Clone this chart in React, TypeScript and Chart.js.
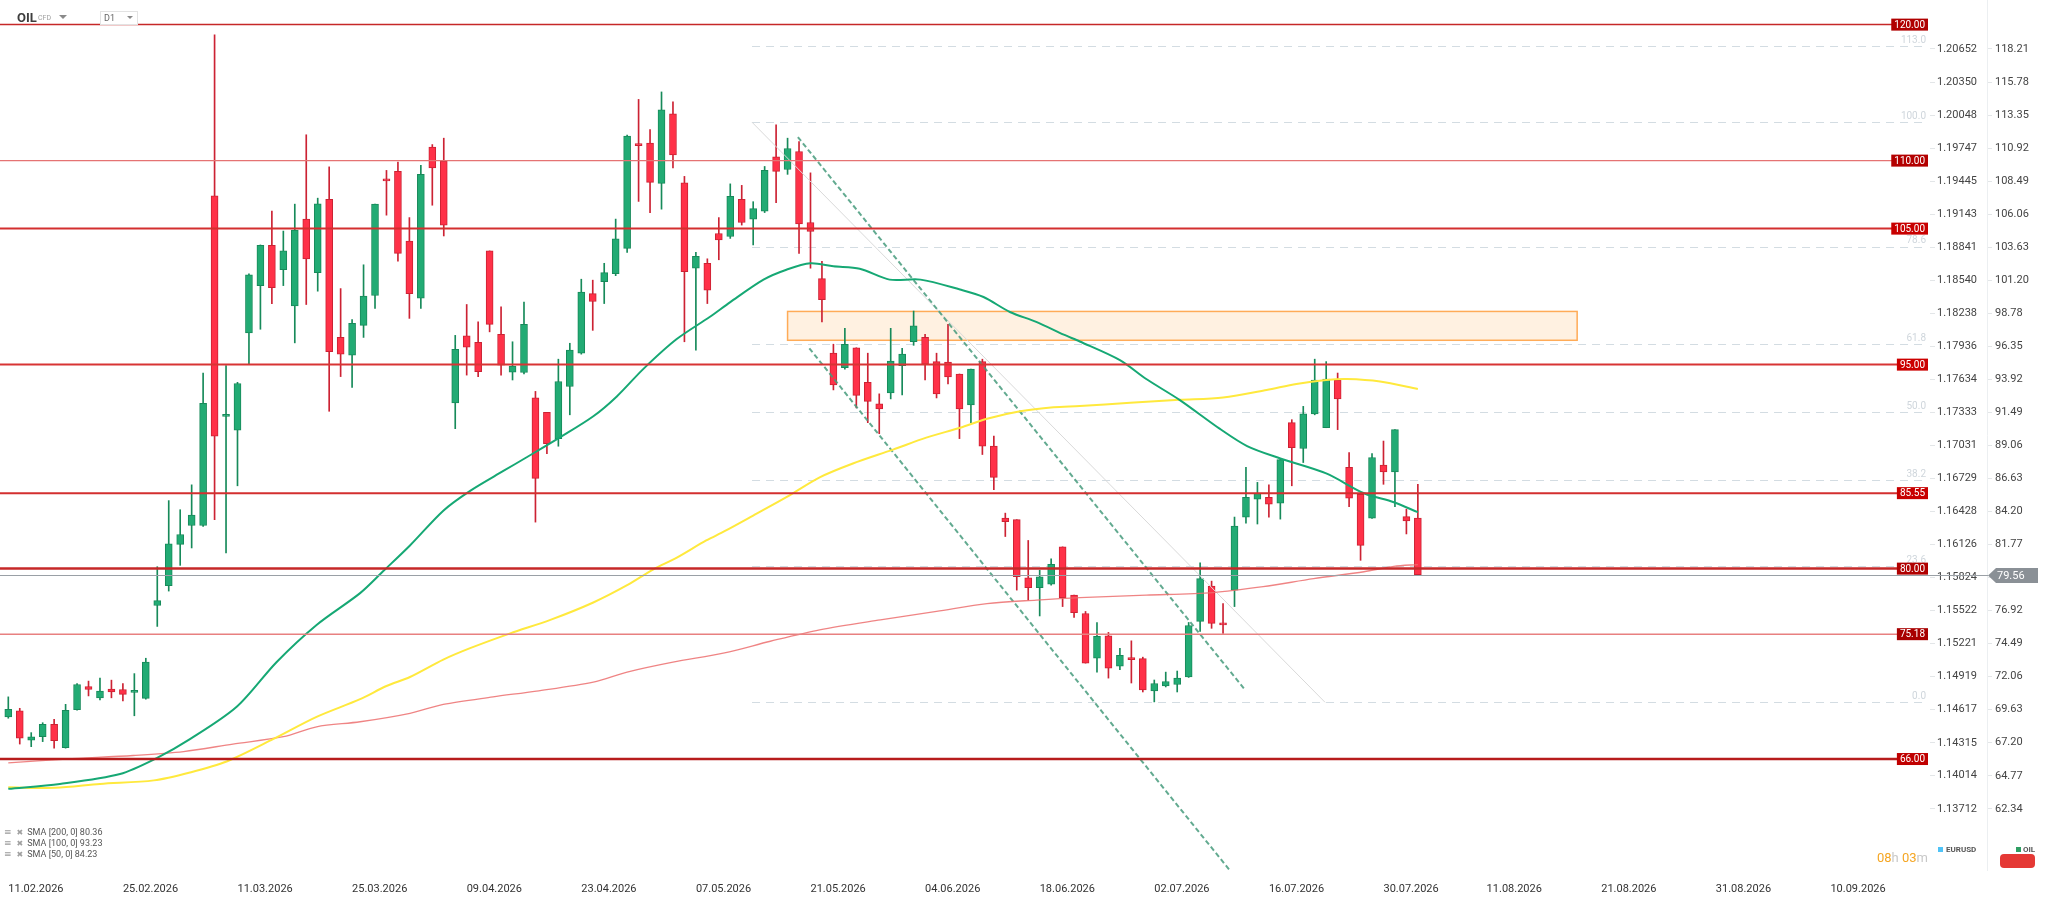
import React, { useEffect, useRef } from 'react';
import { Chart, registerables } from 'chart.js';

Chart.register(...registerables);
Chart.defaults.font.family = 'Roboto';

// ---------- data ----------
const OPEN = [69.10, 69.54, 67.39, 67.64, 68.56, 66.84, 69.62, 71.33, 70.49, 71.15, 71.11, 70.90, 70.46, 77.29, 78.75, 81.78, 83.17, 83.17, 107.42, 91.20, 90.18, 97.34, 100.81, 103.77, 101.98, 99.31, 105.70, 101.76, 107.16, 97.00, 95.69, 97.89, 100.08, 108.66, 109.21, 104.09, 99.89, 111.00, 109.97, 92.19, 97.12, 96.64, 103.36, 97.23, 94.45, 94.42, 92.55, 91.49, 89.56, 93.39, 95.84, 100.22, 101.10, 101.68, 103.55, 111.25, 111.29, 108.33, 113.44, 108.37, 102.09, 102.45, 104.64, 104.42, 107.16, 105.70, 106.29, 110.27, 109.35, 110.67, 105.45, 101.32, 95.84, 94.78, 96.24, 93.69, 92.11, 92.92, 94.93, 96.68, 97.00, 95.22, 95.18, 94.31, 92.04, 95.22, 89.01, 83.71, 83.60, 79.33, 78.60, 78.86, 81.60, 78.05, 76.70, 73.42, 75.06, 72.83, 73.45, 73.38, 71.00, 71.37, 71.48, 72.03, 76.12, 78.71, 76.00, 78.42, 83.79, 85.10, 85.25, 84.81, 90.73, 88.83, 91.38, 90.36, 93.87, 87.44, 85.47, 83.71, 87.62, 87.11, 83.82, 83.71];
const HIGH = [70.57, 69.73, 67.94, 68.67, 68.92, 70.02, 71.55, 71.73, 71.95, 71.80, 71.55, 72.28, 73.41, 80.14, 85.00, 84.33, 86.16, 94.38, 119.25, 94.93, 93.70, 101.68, 103.80, 106.29, 104.82, 106.80, 111.90, 107.24, 109.54, 100.59, 98.32, 102.34, 106.80, 109.28, 109.90, 105.81, 109.65, 111.18, 111.65, 97.15, 99.42, 98.14, 103.36, 99.24, 96.68, 99.60, 93.03, 91.49, 95.40, 96.57, 101.28, 101.21, 102.45, 105.70, 111.87, 114.50, 112.28, 115.05, 114.32, 108.84, 103.25, 102.78, 105.81, 108.29, 108.18, 106.98, 109.57, 112.64, 111.65, 111.40, 109.10, 102.60, 96.50, 97.67, 96.24, 95.84, 92.85, 97.67, 96.20, 98.94, 97.23, 95.84, 97.96, 94.31, 94.67, 95.40, 89.74, 84.08, 83.60, 82.07, 79.88, 80.72, 81.60, 78.05, 76.85, 76.04, 75.31, 74.14, 74.69, 73.49, 71.81, 72.39, 72.47, 76.04, 80.43, 79.08, 77.43, 83.79, 87.44, 86.34, 86.16, 88.10, 90.95, 91.93, 95.40, 95.22, 94.38, 88.54, 85.47, 88.46, 89.38, 90.22, 84.37, 86.20];
const LOW = [69.00, 67.10, 66.91, 67.28, 66.80, 66.80, 69.60, 70.64, 70.35, 70.50, 70.27, 69.18, 70.40, 75.75, 78.35, 80.24, 81.52, 83.10, 83.60, 81.16, 86.09, 95.04, 97.60, 99.49, 100.81, 96.60, 99.42, 100.40, 91.57, 94.12, 93.32, 97.00, 99.13, 105.99, 102.60, 98.40, 99.13, 106.72, 104.46, 90.29, 94.23, 94.12, 97.41, 94.23, 93.87, 94.31, 83.42, 88.46, 89.00, 91.31, 95.77, 97.52, 99.49, 101.54, 103.25, 107.00, 106.18, 106.43, 109.46, 96.68, 96.06, 99.49, 102.71, 104.28, 105.26, 103.80, 106.18, 106.90, 108.99, 103.18, 102.09, 98.14, 93.14, 94.67, 91.82, 90.73, 89.92, 92.48, 92.77, 96.42, 93.87, 92.55, 93.58, 89.56, 90.73, 88.39, 85.80, 82.36, 78.42, 77.69, 76.52, 78.78, 77.21, 76.41, 73.05, 72.39, 71.95, 72.57, 71.59, 70.93, 70.20, 71.30, 70.93, 72.00, 75.39, 75.61, 75.24, 77.21, 83.35, 83.28, 83.79, 83.64, 86.09, 87.80, 91.31, 90.36, 90.22, 84.55, 80.61, 83.70, 86.20, 84.55, 82.55, 79.50];
const CLOSE = [69.65, 67.53, 67.64, 68.56, 67.35, 69.58, 71.48, 71.11, 71.00, 70.93, 70.75, 71.00, 73.12, 77.65, 81.82, 82.51, 83.93, 92.15, 89.74, 91.30, 93.61, 101.61, 103.77, 100.66, 103.36, 104.90, 102.78, 106.83, 95.95, 95.77, 98.03, 100.04, 106.80, 108.51, 103.18, 100.22, 108.99, 109.46, 105.26, 96.13, 96.28, 94.49, 97.96, 94.96, 94.89, 97.96, 86.64, 89.19, 93.76, 96.06, 100.33, 99.64, 101.76, 104.24, 111.80, 111.10, 108.40, 113.74, 110.41, 101.83, 102.96, 100.48, 104.17, 107.38, 105.45, 106.47, 109.28, 109.21, 110.89, 105.34, 104.79, 99.78, 93.50, 96.50, 92.74, 92.30, 91.75, 95.26, 95.77, 97.85, 95.04, 92.85, 94.09, 91.75, 94.67, 89.01, 86.71, 83.46, 79.40, 78.60, 79.40, 80.32, 77.87, 76.77, 73.05, 75.02, 72.68, 73.63, 73.30, 71.08, 71.55, 71.70, 71.95, 75.82, 79.26, 75.97, 75.86, 83.13, 85.25, 85.54, 84.74, 88.02, 88.90, 91.38, 93.87, 93.94, 92.48, 85.18, 81.71, 88.17, 87.11, 90.22, 83.50, 79.56];

const DATE_LABELS = ['11.02.2026', '25.02.2026', '11.03.2026', '25.03.2026', '09.04.2026', '23.04.2026', '07.05.2026', '21.05.2026', '04.06.2026', '18.06.2026', '02.07.2026', '16.07.2026', '30.07.2026', '11.08.2026', '21.08.2026', '31.08.2026', '10.09.2026'];
const DATE_IDX = [0, 10, 20, 30, 40, 50, 60, 70, 80, 90, 100, 110, 120, 129, 139, 149, 159];

const OIL_TICKS = [118.21, 115.78, 113.35, 110.92, 108.49, 106.06, 103.63, 101.20, 98.78, 96.35, 93.92, 91.49, 89.06, 86.63, 84.20, 81.77, 79.34, 76.92, 74.49, 72.06, 69.63, 67.20, 64.77, 62.34];
const EUR_TICKS = [1.20652, 1.20350, 1.20048, 1.19747, 1.19445, 1.19143, 1.18841, 1.18540, 1.18238, 1.17936, 1.17634, 1.17333, 1.17031, 1.16729, 1.16428, 1.16126, 1.15824, 1.15522, 1.15221, 1.14919, 1.14617, 1.14315, 1.14014, 1.13712];

const SMA50 = [[0, 63.81], [4.5, 64.17], [9.75, 64.9], [12.95, 66.07], [15.85, 67.46], [19.93, 69.84], [23.4, 73.12], [26.9, 75.86], [30.7, 78.2], [32.7, 79.8], [35.05, 81.7], [37.96, 84.26], [40.3, 85.72], [43.2, 87.18], [45.2, 88.17], [48.1, 89.63], [51.05, 91.2], [53.1, 92.66], [55.4, 94.67], [58.3, 96.86], [61.2, 98.5], [63.0, 99.6], [65.9, 101.25], [67.9, 101.98], [70.0, 102.45], [72.0, 102.23], [74.3, 102.05], [76.9, 101.25], [79.6, 101.25], [83.05, 100.52], [85.1, 99.97], [87.4, 98.87], [89.7, 98.14], [92.1, 97.2], [93.5, 96.7], [97.0, 95.33], [99.3, 93.94], [102.2, 92.41], [105.7, 90.29], [108.1, 89.01], [111.0, 88.1], [115.0, 87.0], [118.3, 85.54], [120.9, 84.88], [123.0, 84.15]];
const SMA100 = [[0, 63.92], [4.1, 63.88], [8.0, 64.17], [12.7, 64.43], [15.85, 65.01], [19.05, 65.82], [23.1, 67.46], [26.9, 69.1], [30.7, 70.4], [33.0, 71.37], [35.05, 72.03], [37.96, 73.31], [40.3, 74.15], [43.8, 75.24], [47.3, 76.23], [51.05, 77.51], [54.0, 78.78], [56.3, 79.95], [58.3, 80.79], [60.9, 82.07], [62.5, 82.75], [65.0, 83.9], [67.9, 85.25], [70.8, 86.71], [73.7, 87.73], [77.2, 88.75], [80.1, 89.63], [83.05, 90.36], [85.4, 91.02], [88.3, 91.57], [91.2, 91.86], [93.5, 91.95], [97.9, 92.19], [102.2, 92.41], [106.0, 92.59], [109.8, 93.14], [112.4, 93.58], [115.0, 93.87], [116.8, 93.94], [119.7, 93.76], [123.0, 93.21]];
const SMA200 = [[0, 65.71], [5.1, 66.0], [10.9, 66.26], [15.3, 66.55], [19.6, 67.1], [24.0, 67.64], [26.9, 68.37], [30.7, 68.74], [35.05, 69.36], [37.96, 70.02], [42.3, 70.57], [46.1, 71.0], [51.05, 71.66], [54.0, 72.39], [58.0, 73.12], [62.5, 73.8], [66.5, 74.66], [70.8, 75.5], [76.1, 76.23], [81.0, 76.85], [85.4, 77.43], [89.7, 77.69], [93.5, 77.87], [99.3, 78.05], [105.1, 78.24], [109.5, 78.67], [113.9, 79.26], [118.3, 79.77], [120.9, 80.17], [123.0, 80.3]];

const CHANNEL_UPPER = [[68.9, 111.73], [107.9, 71.11]];
const CHANNEL_LOWER = [[69.9, 96.2], [106.7, 57.7]];
const FIB_DIAG = [[64.9, 112.82], [114.9, 70.17]];

const LEVELS = [120, 110, 105, 95, 85.55, 80, 75.18, 66];
const LEVEL_TEXT = ['120.00', '110.00', '105.00', '95.00', '85.55', '80.00', '75.18', '66.00'];
const FIB_PRICES = [118.41, 112.82, 103.67, 96.5, 91.5, 86.5, 80.17, 70.17];
const FIB_TEXT = ['113.0', '100.0', '78.6', '61.8', '50.0', '38.2', '23.6', '0.0'];
const FIB_START = 64.9;
const ZONE_X = [68.0, 136.9];
const ZONE_Y = [96.79, 98.91];
const LAST_PRICE = 79.56;

// ---------- styles / layout ----------
const X_MIN = -0.724;
const X_MAX = 167.69;
const Y_MIN = 57.84;
const Y_MAX = 121.81;
const EUR_MIN = 1.13153;
const EUR_MAX = 1.21099;

const LEVEL_STYLE = [
  { w: 1.5, c: '#c62828', box: '#b00000' },
  { w: 1.2, c: '#e57373', box: '#b30000' },
  { w: 2, c: '#d32f2f', box: '#c80000' },
  { w: 2, c: '#d83434', box: '#cc0000' },
  { w: 2, c: '#d32f2f', box: '#c80000' },
  { w: 2.5, c: '#c62828', box: '#b00000' },
  { w: 1.5, c: '#e88080', box: '#a80000' },
  { w: 2.5, c: '#b71c1c', box: '#c00000' },
];

const UP = '#22ab74';
const UP_B = '#178a5a';
const DN = '#ff3148';
const DN_B = '#cc2233';

const overlayPlugin = {
  id: 'overlayPlugin',
  beforeDatasetsDraw(chart: any) {
    const { ctx, chartArea, scales } = chart;
    const x = scales.x;
    const y = scales.y;
    ctx.save();
    const zx0 = x.getPixelForValue(ZONE_X[0]);
    const zx1 = x.getPixelForValue(ZONE_X[1]);
    const zy0 = y.getPixelForValue(ZONE_Y[1]);
    const zy1 = y.getPixelForValue(ZONE_Y[0]);
    ctx.fillStyle = 'rgba(255,238,220,0.85)';
    ctx.fillRect(zx0, zy0, zx1 - zx0, zy1 - zy0);
    ctx.strokeStyle = '#ffab57';
    ctx.lineWidth = 1.5;
    ctx.strokeRect(zx0, zy0, zx1 - zx0, zy1 - zy0);
    ctx.setLineDash([8, 6]);
    ctx.strokeStyle = '#d3dce2';
    ctx.lineWidth = 1;
    const fx = x.getPixelForValue(FIB_START);
    FIB_PRICES.forEach((p) => {
      const py = Math.round(y.getPixelForValue(p)) + 0.5;
      ctx.beginPath();
      ctx.moveTo(fx, py);
      ctx.lineTo(chartArea.right - 4, py);
      ctx.stroke();
    });
    ctx.setLineDash([]);
    ctx.font = '10px Roboto';
    ctx.fillStyle = '#cfd6dc';
    ctx.textAlign = 'right';
    ctx.textBaseline = 'bottom';
    FIB_PRICES.forEach((p, i) => {
      const py = y.getPixelForValue(p);
      ctx.fillText(FIB_TEXT[i], chartArea.right - 4, py - 1);
    });
    ctx.restore();
  },
  afterDatasetsDraw(chart: any) {
    const { ctx, chartArea, scales } = chart;
    const y = scales.y;
    ctx.save();
    const lp = Math.round(y.getPixelForValue(LAST_PRICE)) + 0.5;
    ctx.strokeStyle = '#9aa0a6';
    ctx.lineWidth = 1;
    ctx.beginPath();
    ctx.moveTo(0, lp);
    ctx.lineTo(1988, lp);
    ctx.stroke();
    LEVELS.forEach((v, i) => {
      const st = LEVEL_STYLE[i];
      const py = y.getPixelForValue(v);
      ctx.strokeStyle = st.c;
      ctx.lineWidth = st.w;
      ctx.beginPath();
      ctx.moveTo(chartArea.left, py);
      ctx.lineTo(chartArea.right - 2, py);
      ctx.stroke();
    });
    ctx.font = '10px Roboto';
    ctx.textBaseline = 'middle';
    ctx.textAlign = 'right';
    LEVELS.forEach((v, i) => {
      const st = LEVEL_STYLE[i];
      const py = y.getPixelForValue(v);
      const tw = ctx.measureText(LEVEL_TEXT[i]).width;
      const right = chartArea.right - 2;
      ctx.fillStyle = st.box;
      ctx.fillRect(right - tw - 6, py - 6, tw + 6, 12);
      ctx.fillStyle = '#ffffff';
      ctx.fillText(LEVEL_TEXT[i], right - 3, py + 0.5);
    });
    const ax = 1988;
    ctx.fillStyle = '#8a9096';
    ctx.beginPath();
    ctx.moveTo(ax, lp);
    ctx.lineTo(ax + 8, lp - 7.5);
    ctx.lineTo(2038, lp - 7.5);
    ctx.lineTo(2038, lp + 7.5);
    ctx.lineTo(ax + 8, lp + 7.5);
    ctx.closePath();
    ctx.fill();
    ctx.fillStyle = '#ffffff';
    ctx.font = '11px Roboto';
    ctx.textAlign = 'left';
    ctx.fillText(LAST_PRICE.toFixed(2), 1997, lp + 0.5);
    ctx.restore();
  },
};

export default function App() {
  const ref = useRef<HTMLCanvasElement | null>(null);

  useEffect(() => {
    if (!ref.current) return;
    const idx = CLOSE.map((_, i) => i);
    const isUp = idx.map((i) => CLOSE[i] >= OPEN[i]);
    const toXY = (arr: number[][]) => arr.map(([a, b]) => ({ x: a, y: b }));
    const lineBase = { type: 'line', xAxisID: 'x', yAxisID: 'y', pointRadius: 0, pointHoverRadius: 0 };

    const chart = new Chart(ref.current, {
      type: 'bar',
      data: {
        datasets: [
          { ...lineBase, data: toXY(SMA50), borderColor: '#16a874', borderWidth: 2, tension: 0.3, order: 0 } as any,
          { ...lineBase, data: toXY(SMA100), borderColor: '#ffe93d', borderWidth: 2, tension: 0.3, order: 0 } as any,
          { ...lineBase, data: toXY(SMA200), borderColor: 'rgba(236,110,110,0.85)', borderWidth: 1.3, tension: 0.3, order: 0 } as any,
          { ...lineBase, data: toXY(CHANNEL_UPPER), borderColor: 'rgba(70,155,125,0.85)', borderWidth: 2, borderDash: [5, 3], order: 1 } as any,
          { ...lineBase, data: toXY(CHANNEL_LOWER), borderColor: 'rgba(70,155,125,0.85)', borderWidth: 2, borderDash: [5, 3], order: 1 } as any,
          { ...lineBase, data: toXY(FIB_DIAG), borderColor: '#d9d9d9', borderWidth: 1, order: 1 } as any,
          {
            type: 'bar',
            xAxisID: 'x',
            yAxisID: 'y',
            data: idx.map((i) => ({ x: i, y: [OPEN[i], CLOSE[i]] })),
            backgroundColor: idx.map((i) => (isUp[i] ? UP : DN)),
            borderColor: idx.map((i) => (isUp[i] ? UP_B : DN_B)),
            borderWidth: 1,
            borderSkipped: false,
            barThickness: 7,
            minBarLength: 2,
            grouped: false,
            order: 2,
          } as any,
          {
            type: 'bar',
            xAxisID: 'x',
            yAxisID: 'y',
            data: idx.map((i) => ({ x: i, y: [LOW[i], HIGH[i]] })),
            backgroundColor: idx.map((i) => (isUp[i] ? UP_B : DN_B)),
            borderWidth: 0,
            barThickness: 1,
            grouped: false,
            order: 3,
          } as any,
        ],
      },
      options: {
        responsive: false,
        animation: false,
        devicePixelRatio: 1,
        layout: { padding: 0 },
        plugins: { legend: { display: false }, tooltip: { enabled: false } },
        scales: {
          x: {
            type: 'linear',
            offset: false,
            min: X_MIN,
            max: X_MAX,
            grid: { display: false, offset: false },
            border: { display: false },
            afterBuildTicks: (s: any) => {
              s.ticks = DATE_IDX.map((v) => ({ value: v }));
            },
            afterFit: (s: any) => {
              s.height = 27;
              s.paddingLeft = 0;
              s.paddingRight = 0;
            },
            ticks: {
              align: 'start',
              autoSkip: false,
              maxRotation: 0,
              padding: 5,
              color: '#333333',
              font: { family: 'Roboto', size: 11 },
              callback: (v: any) => {
                const k = DATE_IDX.indexOf(Number(v));
                return k >= 0 ? DATE_LABELS[k] : '';
              },
            },
          },
          y: {
            type: 'linear',
            position: 'right',
            weight: 2,
            min: Y_MIN,
            max: Y_MAX,
            beginAtZero: false,
            grid: { display: true, drawOnChartArea: false, drawTicks: true, tickLength: 5, tickColor: '#e3e6e8' },
            border: { display: true, color: '#eceff1' },
            afterBuildTicks: (s: any) => {
              s.ticks = OIL_TICKS.map((v) => ({ value: v }));
            },
            afterFit: (s: any) => {
              s.width = 61;
              s.paddingTop = 0;
              s.paddingBottom = 0;
            },
            ticks: {
              padding: 3,
              color: '#444444',
              font: { family: 'Roboto', size: 11 },
              callback: (v: any) => Number(v).toFixed(2),
            },
          },
          yEur: {
            type: 'linear',
            position: 'right',
            weight: 1,
            min: EUR_MIN,
            max: EUR_MAX,
            grid: { display: true, drawOnChartArea: false, drawTicks: true, tickLength: 5, tickColor: '#e3e6e8' },
            border: { display: false },
            afterBuildTicks: (s: any) => {
              s.ticks = EUR_TICKS.map((v) => ({ value: v }));
            },
            afterFit: (s: any) => {
              s.width = 57;
              s.paddingTop = 0;
              s.paddingBottom = 0;
            },
            ticks: {
              padding: 2,
              color: '#444444',
              font: { family: 'Roboto', size: 11 },
              callback: (v: any) => Number(v).toFixed(5),
            },
          },
        },
      } as any,
      plugins: [overlayPlugin],
    });
    return () => chart.destroy();
  }, []);

  const abs = (s: React.CSSProperties): React.CSSProperties => ({ position: 'absolute', whiteSpace: 'nowrap', lineHeight: 1, ...s });
  const legendRow = (top: number, text: string) => (
    <div style={abs({ left: 4, top, fontFamily: 'Roboto', fontSize: 9, color: '#555' })}>
      <span style={{ fontFamily: 'DejaVu Sans', color: '#9a9a9a', fontSize: 9 }}>≡</span>
      <span style={{ fontFamily: 'DejaVu Sans', color: '#a0a0a0', fontSize: 8, marginLeft: 5 }}>✖</span>
      <span style={{ marginLeft: 4 }}>{text}</span>
    </div>
  );

  return (
    <div style={{ position: 'absolute', left: 0, top: 0, width: 2048, height: 897, background: '#ffffff', overflow: 'hidden' }}>
      <canvas ref={ref} width={2048} height={897} style={{ display: 'block', width: 2048, height: 897 }} />
      <div style={abs({ left: 17, top: 11, fontFamily: 'Roboto', fontWeight: 700, fontSize: 13, color: '#3e3e3e' })}>OIL</div>
      <div style={abs({ left: 38, top: 15, fontFamily: 'Roboto', fontSize: 7, color: '#a0a0a0' })}>CFD</div>
      <div style={abs({ left: 59, top: 15, width: 0, height: 0, borderLeft: '4px solid transparent', borderRight: '4px solid transparent', borderTop: '4px solid #8a8a8a' })} />
      <div style={abs({ left: 100, top: 11, width: 36, height: 12, border: '1px solid #e3e3e3', background: '#fff' })} />
      <div style={abs({ left: 104, top: 14, fontFamily: 'Roboto', fontSize: 9, color: '#666' })}>D1</div>
      <div style={abs({ left: 127, top: 16, width: 0, height: 0, borderLeft: '3.5px solid transparent', borderRight: '3.5px solid transparent', borderTop: '3.5px solid #8a8a8a' })} />

      {legendRow(828, 'SMA [200, 0] 80.36')}
      {legendRow(839, 'SMA [100, 0] 93.23')}
      {legendRow(850, 'SMA [50, 0] 84.23')}

      <div style={abs({ right: 2048 - 1928, top: 851, fontFamily: 'Roboto', fontSize: 13 })}>
        <span style={{ color: '#f5a623' }}>08</span>
        <span style={{ color: '#c8c8c8' }}>h </span>
        <span style={{ color: '#f5a623' }}>03</span>
        <span style={{ color: '#c8c8c8' }}>m</span>
      </div>

      <div style={abs({ left: 1938, top: 847, width: 5, height: 5, background: '#4fc3f7' })} />
      <div style={abs({ left: 1946, top: 846, fontFamily: 'Roboto', fontWeight: 700, fontSize: 8, color: '#555' })}>EURUSD</div>
      <div style={abs({ left: 2016, top: 847, width: 5, height: 5, background: '#2e9e62' })} />
      <div style={abs({ left: 2023, top: 846, fontFamily: 'Roboto', fontWeight: 700, fontSize: 8, color: '#555' })}>OIL</div>
      <div style={abs({ left: 2000, top: 854, width: 35, height: 14, borderRadius: 4, background: '#e53935' })} />
    </div>
  );
}
